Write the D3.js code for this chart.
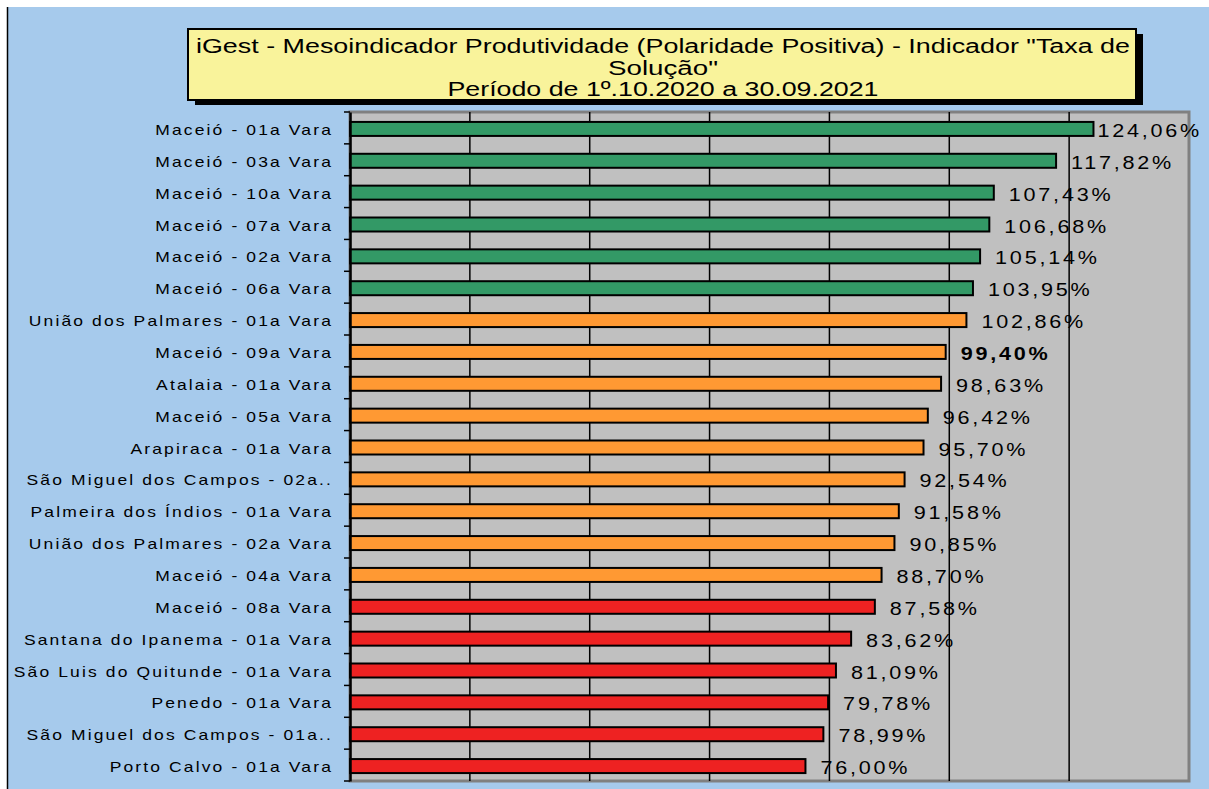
<!DOCTYPE html>
<html lang="pt">
<head>
  <meta charset="UTF-8">
  <title>Taxa de Solução</title>
  <script src="https://cdn.jsdelivr.net/npm/d3@7"></script>
  <style>
    body { margin: 0; background: #fff; }
    text { font-family: "Liberation Sans", Arial, sans-serif; }
  </style>
</head>
<body>
  <script>
    // dados
    let varas = [
      'Maceió - 01a Vara', 'Maceió - 03a Vara', 'Maceió - 10a Vara', 'Maceió - 07a Vara',
      'Maceió - 02a Vara', 'Maceió - 06a Vara', 'União dos Palmares - 01a Vara', 'Maceió - 09a Vara',
      'Atalaia - 01a Vara', 'Maceió - 05a Vara', 'Arapiraca - 01a Vara', 'São Miguel dos Campos - 02a..',
      'Palmeira dos Índios - 01a Vara', 'União dos Palmares - 02a Vara', 'Maceió - 04a Vara', 'Maceió - 08a Vara',
      'Santana do Ipanema - 01a Vara', 'São Luis do Quitunde - 01a Vara', 'Penedo - 01a Vara',
      'São Miguel dos Campos - 01a..', 'Porto Calvo - 01a Vara'
    ];
    let taxas = [124.06, 117.82, 107.43, 106.68, 105.14, 103.95, 102.86, 99.40, 98.63, 96.42, 95.70,
                 92.54, 91.58, 90.85, 88.70, 87.58, 83.62, 81.09, 79.78, 78.99, 76.00];
    let faixas = ['verde', 'verde', 'verde', 'verde', 'verde', 'verde', 'laranja', 'laranja', 'laranja',
                  'laranja', 'laranja', 'laranja', 'laranja', 'laranja', 'laranja', 'vermelho', 'vermelho',
                  'vermelho', 'vermelho', 'vermelho', 'vermelho'];
    let ticksX = [0, 20, 40, 60, 80, 100, 120, 140];
    let titulo = ['iGest - Mesoindicador Produtividade (Polaridade Positiva) - Indicador "Taxa de',
                  'Solução"', 'Período de 1º.10.2020 a 30.09.2021'];

    let cores = {verde: '#339966', laranja: '#FF9933', vermelho: '#EE2222'};

    let W = 1209, H = 789;
    let svg = d3.select('body').append('svg')
      .attr('width', W).attr('height', H);

    // fundo
    svg.append('rect').attr('width', W).attr('height', H).attr('fill', '#fff');
    svg.append('rect').attr('x', 8).attr('y', 7).attr('width', W - 8).attr('height', H - 7)
      .attr('fill', '#A6CAEC');
    svg.append('line').attr('x1', 7.5).attr('x2', 7.5).attr('y1', 7).attr('y2', H)
      .attr('stroke', '#000').attr('stroke-width', 1.5);

    // caixa do título
    let tb = {x: 188, y: 29, w: 948, h: 71};
    svg.append('rect').attr('x', tb.x + 7).attr('y', tb.y + 5).attr('width', tb.w).attr('height', tb.h)
      .attr('fill', '#000');
    svg.append('rect').attr('x', tb.x).attr('y', tb.y).attr('width', tb.w).attr('height', tb.h)
      .attr('fill', '#F9F39B').attr('stroke', '#000').attr('stroke-width', 2);
    let larguras = [934, 110, 431];
    svg.append('g').selectAll('text').data(titulo).join('text')
      .attr('x', tb.x + tb.w / 2 + 1)
      .attr('y', (d, i) => 53 + i * 21.5)
      .attr('text-anchor', 'middle')
      .attr('font-size', 20)
      .attr('textLength', (d, i) => larguras[i])
      .attr('lengthAdjust', 'spacingAndGlyphs')
      .text(d => d);

    // área do gráfico
    let m = {left: 350, top: 112, right: 1189, bottom: 781};
    let x = d3.scaleLinear().domain([0, 140]).range([m.left, m.right]);
    let y = d3.scaleBand().domain(varas).range([m.top, m.bottom]).paddingInner(0).paddingOuter(0);

    svg.append('rect').attr('x', m.left).attr('y', m.top)
      .attr('width', m.right - m.left).attr('height', m.bottom - m.top)
      .attr('fill', '#C0C0C0').attr('stroke', '#808080').attr('stroke-width', 3);

    // linhas de grade
    svg.append('g').selectAll('line').data(ticksX.slice(1, -1)).join('line')
      .attr('x1', d => x(d)).attr('x2', d => x(d))
      .attr('y1', m.top).attr('y2', m.bottom)
      .attr('stroke', '#000').attr('stroke-width', 1.5);

    // barras
    let bh = 14;
    svg.append('g').selectAll('rect').data(taxas).join('rect')
      .attr('x', x(0))
      .attr('y', (d, i) => y(varas[i]) + y.bandwidth() / 2 - bh / 2 + 1)
      .attr('width', d => x(d) - x(0))
      .attr('height', bh)
      .attr('fill', (d, i) => cores[faixas[i]])
      .attr('stroke', '#000').attr('stroke-width', 2);

    // rótulos dos valores (texto esticado na horizontal, como no original)
    let fmt = d => d.toFixed(2).replace('.', ',') + '%';
    svg.append('g').selectAll('text').data(taxas).join('text')
      .attr('transform', (d, i) => {
        let tx = x(d) + (i === 0 ? 4 : 15);
        let ty = y(varas[i]) + y.bandwidth() / 2 + 9;
        return `translate(${tx},${ty}) scale(1.2,1)`;
      })
      .attr('font-size', 18)
      .attr('letter-spacing', 2.3)
      .attr('font-weight', d => d === 99.40 ? 'bold' : 'normal')
      .text(fmt);

    // eixo Y
    let eixo = d3.axisLeft(y).tickSize(0).tickPadding(17);
    let gy = svg.append('g').attr('transform', `translate(${m.left},0)`).call(eixo);
    gy.select('.domain').attr('stroke', '#000').attr('stroke-width', 2.5);
    gy.selectAll('text')
      .attr('x', 0)
      .attr('dy', '0.5em')
      .attr('transform', 'translate(-17,0) scale(1.25,1)')
      .attr('font-size', 14)
      .attr('letter-spacing', 1.7)
      .attr('fill', '#000')
      .style('font-family', '"Liberation Sans", Arial, sans-serif');
    // marcas entre categorias
    let limites = varas.map(v => y(v)).concat([m.bottom]);
    svg.append('g').selectAll('line').data(limites).join('line')
      .attr('x1', m.left - 6).attr('x2', m.left)
      .attr('y1', d => d).attr('y2', d => d)
      .attr('stroke', '#000').attr('stroke-width', 1.5);
  </script>
</body>
</html>
